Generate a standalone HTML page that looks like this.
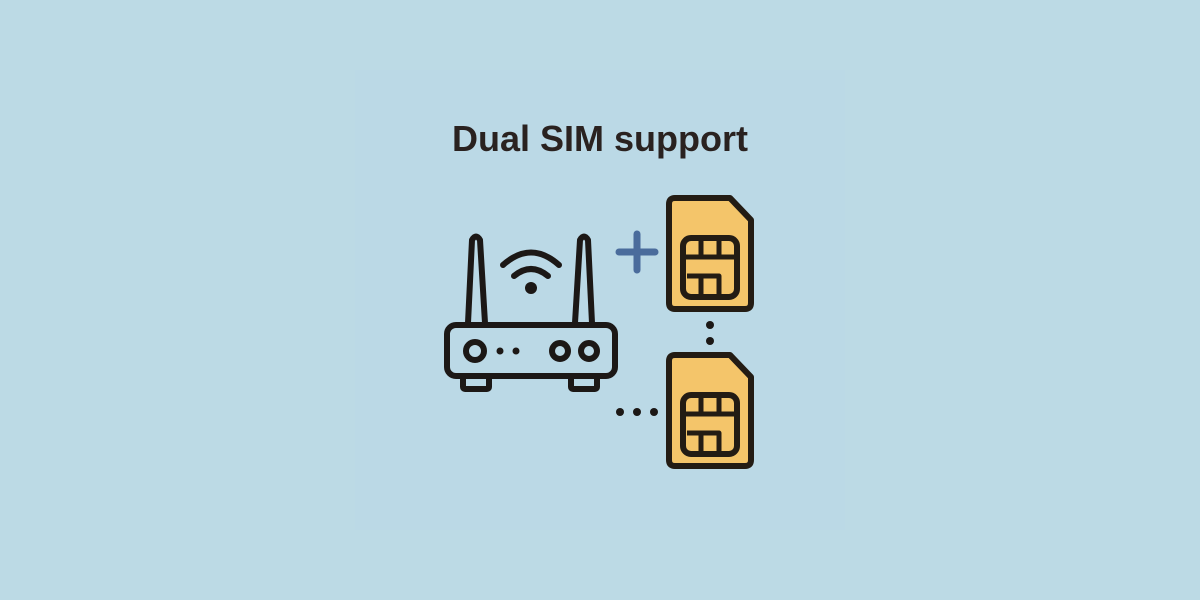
<!DOCTYPE html>
<html><head><style>
html,body{margin:0;padding:0}
body{width:1200px;height:600px;background:#bcdae5;position:relative;overflow:hidden}
.t{position:absolute;left:0;width:1200px;top:118px;text-align:center;font:bold 36px "Liberation Sans",sans-serif;color:#2a2220}
svg{position:absolute;left:0;top:0}
</style></head><body>
<svg width="1200" height="600">
<rect x="355" y="70" width="490" height="460" fill="#bad6e8" opacity="0.3"/>
<g fill="none" stroke="#1c1816" stroke-width="6" stroke-linejoin="round" stroke-linecap="round">
<path d="M468 323 L472 240 Q476 233 480 240 L485 323"/>
<path d="M575 323 L580 240 Q584 233 588 240 L592 323"/>
<rect x="447" y="325" width="168" height="51" rx="9"/>
<rect x="463" y="376" width="26" height="13" rx="2"/>
<rect x="571" y="376" width="26" height="13" rx="2"/>
<circle cx="475" cy="351" r="9"/>
<circle cx="560" cy="351" r="8"/>
<circle cx="589" cy="351" r="8"/>
<path d="M503 265 Q531 240 559 265"/>
<path d="M514 276 Q531 262 548 276"/>
</g>
<g fill="#1c1816">
<circle cx="500" cy="351" r="3.5"/><circle cx="516" cy="351" r="3.5"/>
<circle cx="531" cy="288" r="6"/>
<circle cx="710" cy="325" r="4"/><circle cx="710" cy="341" r="4"/>
<circle cx="620" cy="412" r="4"/><circle cx="637" cy="412" r="4"/><circle cx="654" cy="412" r="4"/>
</g>
<g stroke="#4a6c9c" stroke-width="7" stroke-linecap="round">
<line x1="619" y1="252" x2="655" y2="252"/><line x1="637" y1="234" x2="637" y2="270"/>
</g>
<g id="sim" stroke="#231c14" stroke-width="6" stroke-linejoin="round">
<path d="M675 198 L730 198 L751 220 L751 303 Q751 309 745 309 L675 309 Q669 309 669 303 L669 204 Q669 198 675 198 Z" fill="#f4c56a"/>
<rect x="683" y="238" width="54" height="59" rx="8" fill="#f4c56a"/>
<g stroke-width="5" fill="none">
<line x1="701" y1="240" x2="701" y2="257"/><line x1="719" y1="240" x2="719" y2="257"/>
<line x1="685" y1="257" x2="735" y2="257"/>
<path d="M687 276 L719 276 L719 295"/>
<line x1="701" y1="276" x2="701" y2="295"/>
</g>
</g>
<use href="#sim" transform="translate(0,157)"/>
</svg>
<div class="t">Dual SIM support</div>
</body></html>
